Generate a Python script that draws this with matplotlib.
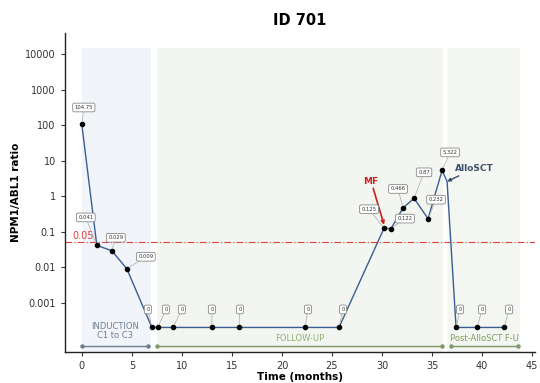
import numpy as np
import matplotlib.pyplot as plt
from matplotlib.patches import Rectangle

# data
time = [0, 1.5, 3.0, 4.5, 7.0, 7.6, 9.1, 13.0, 15.7, 22.3, 25.7,
        30.2, 30.9, 32.1, 33.2, 34.6, 36.0, 36.5, 37.4, 39.5, 42.2]
ratio = [104.75, 0.041, 0.029, 0.009, 0, 0, 0, 0, 0, 0, 0,
         0.125, 0.122, 0.466, 0.87, 0.232, 5.322, 2.6, 0, 0, 0]
labels = ["104.75", "0.041", "0.029", "0.009", "0", "0", "0", "0", "0", "0", "0",
          "0.125", "0.122", "0.466", "0.87", "0.232", "5.322", "", "0", "0", "0"]
# label offsets in pixels (dx, dy up)
label_offsets = [(2, 17), (-11, 28), (4, 13), (19, 12), (-4, 18), (8, 18), (9, 18),
                 (0, 18), (1, 18), (3, 18), (4, 18), (-15, 19), (14, 10), (-5, 19),
                 (10, 26), (8, 19), (8, 18), (0, 0), (4, 18), (5, 18), (5, 18)]

phases = ["INDUCTION\nC1 to C3", "FOLLOW-UP", "Post-AlloSCT F-U"]
phase_start = [0, 7.5, 36.9]
phase_end = [6.6, 36.0, 43.6]
phase_bg = [(0, 6.9), (7.5, 36.1), (36.5, 43.8)]

ZERO = 0.0002
threshold = 0.05
mf_time, mf_value = 30.2, 0.125
sct_time, sct_value = 36.5, 2.6

fig = plt.figure(figsize=(5.4, 3.83), dpi=100)
ax = fig.add_axes([0.120, 0.081, 0.871, 0.833])

bg_colors = ["#f1f5fa", "#f3f6f0", "#f3f6f1"]
for (x0, x1), c in zip(phase_bg, bg_colors):
    ax.add_patch(Rectangle((x0, 4e-5), x1 - x0, 1.5e4 - 4e-5, color=c, lw=0, zorder=0))

y = [v if v > 0 else ZERO for v in ratio]
ax.plot(time, y, color="#3a5d93", lw=1.0, zorder=2)
mask = [lab != "" for lab in labels]
ax.scatter([t for t, m in zip(time, mask) if m], [v for v, m in zip(y, mask) if m],
           s=9, color="black", zorder=3)

for t, v, lab, (dx, dy) in zip(time, y, labels, label_offsets):
    if not lab:
        continue
    ax.annotate(lab, (t, v), xytext=(dx * 0.72, dy * 0.72), textcoords="offset points",
                ha="center", va="center", fontsize=3.8, color="#333333",
                bbox=dict(boxstyle="round,pad=0.35,rounding_size=0.3", fc="white",
                          ec="#888888", lw=0.6),
                arrowprops=dict(arrowstyle="-", color="#aaaaaa", lw=0.5,
                                shrinkA=0, shrinkB=2),
                zorder=4)

ax.axhline(threshold, color="#e0403a", lw=0.8, ls=(0, (6, 2, 1, 2)), zorder=1)
ax.text(0.1, 0.075, "0.05", color="#e0403a", fontsize=7, ha="center", va="center")

# phase bars
seg_y = 6e-5
seg_colors = ["#6d7f95", "#7f9a6a", "#7f9a6a"]
txt_colors = ["#6d7f95", "#8fae73", "#7f9a5e"]
txt_y = [1.6e-4, 1e-4, 1e-4]
for name, s, e, sc, tc, ty in zip(phases, phase_start, phase_end, seg_colors, txt_colors, txt_y):
    ax.plot([s, e], [seg_y, seg_y], color=sc, lw=1.0, marker="o", ms=2.2, zorder=2)
    ax.text((s + e) / 2, ty, name, color=tc, fontsize=6, ha="center", va="center",
            linespacing=1.1)

ax.annotate("MF", (mf_time, mf_value * 1.25), xytext=(28.9, 2.0), color="#cc1f1f",
            fontsize=6.5, fontweight="bold", ha="center", va="bottom",
            arrowprops=dict(arrowstyle="-|>", color="#cc1f1f", lw=1.2,
                            mutation_scale=5, shrinkA=0, shrinkB=0))
ax.annotate("AlloSCT", (sct_time, sct_value), xytext=(39.2, 6.0), color="#3f4f6b",
            fontsize=6.5, fontweight="bold", ha="center", va="center",
            arrowprops=dict(arrowstyle="-|>", color="#3f4f6b", lw=1.0,
                            mutation_scale=5, shrinkA=14, shrinkB=0))

ax.set_yscale("log")
ax.set_ylim(10 ** -4.39, 10 ** 4.6)
ax.set_xlim(-1.7, 45.3)
ax.set_yticks([0.001, 0.01, 0.1, 1, 10, 100, 1000, 10000])
ax.set_yticklabels(["0.001", "0.01", "0.1", "1", "10", "100", "1000", "10000"])
ax.minorticks_off()
ax.set_xticks([0, 5, 10, 15, 20, 25, 30, 35, 40, 45])
ax.tick_params(labelsize=7, colors="#333333", length=3, width=0.8)
for s in ["top", "right"]:
    ax.spines[s].set_visible(False)
for s in ["left", "bottom"]:
    ax.spines[s].set_linewidth(1.0)
    ax.spines[s].set_color("#222222")

ax.set_xlabel("Time (months)", fontsize=7.5, fontweight="bold", labelpad=1)
ax.set_ylabel("NPM1/ABL1 ratio", fontsize=7.5, fontweight="bold", labelpad=3)
ax.set_title("ID 701", fontsize=10.5, fontweight="bold", pad=6)

fig.savefig("out.png", dpi=100)
